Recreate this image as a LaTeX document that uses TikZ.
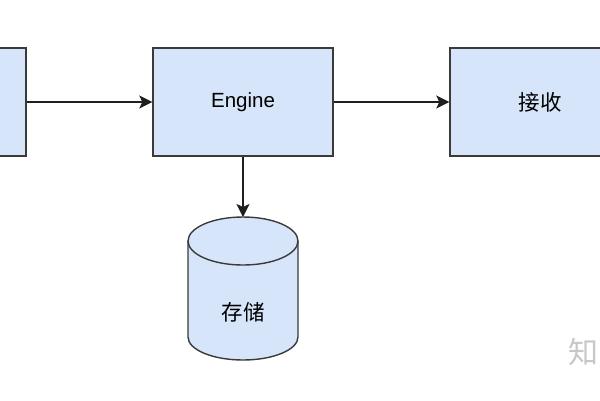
\documentclass[tikz,border=0pt]{standalone}
\usepackage{fontspec}
\setmainfont{Liberation Sans}
\newfontfamily\cjk{Noto Sans CJK SC}
\usetikzlibrary{arrows.meta,shapes.geometric}
\definecolor{boxfill}{HTML}{D6E5FA}
\definecolor{boxline}{HTML}{3A3A3A}
\tikzset{
  blockbox/.style={draw=boxline, fill=boxfill, line width=1.4pt, minimum width=180pt, minimum height=108pt, inner sep=0pt},
  conn/.style={draw=black!88, line width=1.6pt, -{Stealth[length=13pt,width=13pt,inset=3pt]}},
  lbl/.style={font=\fontsize{20.5}{24}\selectfont},
  cjklbl/.style={font=\cjk\fontsize{21.5}{24}\selectfont}
}
\begin{document}
\begin{tikzpicture}[x=1pt,y=-1pt]
\useasboundingbox (0,0) rectangle (600,400);
\fill[white] (0,0) rectangle (600,400);
\begin{scope}
\clip (0,0) rectangle (600,400);
\node[blockbox] (left) at (-64,102) {};
\node[blockbox] (engine) at (243,102) {};
\node[lbl] at (engine.center) {Engine};
\node[blockbox] (recv) at (540,102) {};
\node[cjklbl] at (recv.center) {接收};
% cylinder
\coordinate (cyltop) at (243,217);
\fill[boxfill] (188,241) arc[start angle=180,end angle=0,x radius=55pt,y radius=24pt] -- (298,337) arc[start angle=0,end angle=-180,x radius=55pt,y radius=23pt] -- cycle;
\draw[boxline, line width=1.4pt] (188,241) arc[start angle=180,end angle=-180,x radius=55pt,y radius=24pt];
\draw[boxline, line width=1.4pt] (188,241) -- (188,337) arc[start angle=180,end angle=360,x radius=55pt,y radius=23pt] -- (298,241);
\node[cjklbl] (store) at (243,312) {存储};
\draw[conn] (left.east) -- (engine.west);
\draw[conn] (engine.east) -- (recv.west);
\draw[conn] (engine.south) -- (cyltop);
\node[font=\cjk\fontsize{30}{32}\selectfont, text=black!22, anchor=east, inner sep=0pt] (wm) at (599,352) {知};
\end{scope}
\end{tikzpicture}
\end{document}
